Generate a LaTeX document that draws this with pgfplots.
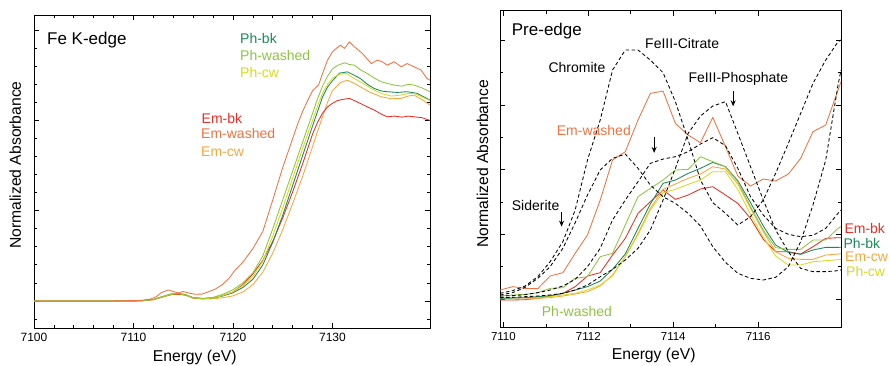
\documentclass[border=0pt]{standalone}
\usepackage{fontspec}
\setmainfont{Liberation Sans}
\usepackage{pgfplots}
\pgfplotsset{compat=1.18}
\usepackage{pgfplotstable}
\usetikzlibrary{arrows.meta}

\definecolor{embk}{HTML}{EE2B24}
\definecolor{emwashed}{HTML}{F3703F}
\definecolor{emcw}{HTML}{FAA53C}
\definecolor{phbk}{HTML}{178A55}
\definecolor{phwashed}{HTML}{8CC43F}
\definecolor{phcw}{HTML}{D9DA1B}

\pgfplotstableread{
x embk emwashed emcw phbk phwashed phcw chromite siderite phosphate citrate
7109.92 -0.015 0.139 0.000 0.010 0.046 0.021 0.088 0.062 0.021 0.046
7110.22 -0.015 0.191 0.000 0.015 0.062 0.021 0.129 0.098 0.026 0.052
7110.51 -0.010 0.165 0.000 0.021 0.072 0.021 0.201 0.180 0.036 0.067
7110.81 0.010 0.160 0.010 0.036 0.098 0.026 0.345 0.320 0.046 0.098
7111.10 0.046 0.356 0.021 0.052 0.165 0.036 0.577 0.500 0.062 0.139
7111.40 0.088 0.407 0.046 0.088 0.175 0.062 0.887 0.784 0.088 0.201
7111.69 0.191 0.706 0.077 0.139 0.320 0.088 1.376 1.180 0.139 0.304
7111.98 0.356 0.990 0.113 0.191 0.345 0.139 2.149 1.608 0.216 0.500
7112.28 0.407 1.531 0.201 0.278 0.655 0.216 2.768 1.995 0.345 0.784
7112.57 0.680 2.149 0.371 0.459 0.706 0.356 3.541 2.175 0.459 1.222
7112.87 0.938 2.278 0.655 0.696 1.144 0.655 3.851 2.242 0.603 1.531
7113.17 1.325 2.768 1.015 1.093 1.582 0.990 3.851 2.021 0.784 1.814
7113.46 1.505 3.180 1.402 1.469 1.711 1.376 3.696 1.763 1.067 2.098
7113.76 1.686 3.216 1.696 1.789 1.840 1.644 3.500 1.582 1.531 2.165
7114.05 1.541 2.716 1.778 1.840 1.995 1.696 3.052 1.479 2.021 2.201
7114.35 1.608 2.536 1.866 1.943 2.005 1.773 2.459 1.325 2.562 2.278
7114.64 1.701 2.418 1.933 2.021 2.201 1.840 1.840 1.129 2.830 2.397
7114.93 1.737 2.809 2.046 2.113 2.124 1.969 1.490 0.809 2.985 2.495
7115.23 1.608 2.356 2.010 2.046 2.046 1.969 1.325 0.567 3.052 2.371
7115.52 1.479 1.902 1.778 1.830 1.814 1.696 1.144 0.397 2.562 2.021
7115.82 1.247 1.747 1.402 1.490 1.428 1.309 1.273 0.320 2.046 1.582
7116.12 0.923 1.856 1.041 1.129 1.067 0.954 1.531 0.294 1.531 1.299
7116.41 0.732 1.825 0.732 0.835 0.794 0.665 1.943 0.335 1.067 1.093
7116.71 0.732 1.933 0.629 0.722 0.768 0.526 2.407 0.500 0.732 1.000
7117.00 0.696 2.175 0.613 0.691 0.768 0.526 2.871 0.887 0.474 0.964
7117.29 0.809 2.588 0.613 0.758 0.912 0.577 3.335 1.454 0.423 0.985
7117.59 0.938 2.691 0.680 0.799 0.912 0.593 3.696 2.149 0.423 1.093
7117.88 0.948 3.232 0.696 0.799 1.093 0.608 3.979 3.309 0.438 1.325
7117.95 0.948 3.361 0.700 0.800 1.119 0.613 4.005 3.541 0.448 1.376
}\rightdata

\pgfplotsset{
  myax/.style={
    scale only axis, anchor=south west,
    axis line style={line width=0.8pt},
    tick style={line width=0.7pt, black},
    tick align=inside, xtick pos=both, ytick pos=both,
    major tick length=5pt, minor tick length=3pt,
    yticklabels={},
    every axis plot/.append style={line width=0.85pt, line join=round, no markers},
  },
  ref/.style={black, dash pattern=on 3.5pt off 2.5pt},
}

\begin{document}
\begin{tikzpicture}
\useasboundingbox (0,0) rectangle (890pt,365pt);

% ---------------- Left panel ----------------
\begin{axis}[myax, at={(34pt,37pt)}, width=396pt, height=313pt,
  xmin=7100, xmax=7139.8, ymin=-0.15, ymax=1.584,
  xtick={7100,7110,7120,7130}, xticklabels={7100,7110,7120,7130},
  minor x tick num=4,
  ytick={0,0.5,1,1.5},
  minor ytick={-0.1,0.1,0.2,0.3,0.4,0.6,0.7,0.8,0.9,1.1,1.2,1.3,1.4},
  xticklabel style={font=\fontsize{12}{14}\selectfont, yshift=-2pt},
]
\addplot[emcw] coordinates {(7100,0) (7110,0) (7111,0.001) (7112,0.006) (7113,0.022) (7113.8,0.036) (7114.5,0.038) (7115.2,0.032) (7116,0.015) (7117,0.01) (7118,0.012) (7119,0.018) (7120,0.028) (7121,0.05) (7122,0.09) (7123,0.16) (7124,0.265) (7125,0.395) (7126,0.54) (7127,0.69) (7128,0.855) (7128.5,0.94) (7129,1.02) (7129.5,1.1) (7130,1.165) (7130.8,1.21) (7131.5,1.223) (7132.2,1.205) (7132.8,1.186) (7133.8,1.155) (7134.9,1.131) (7135.9,1.12) (7136.9,1.122) (7137.6,1.135) (7138.2,1.14) (7139,1.115) (7139.8,1.085)};
\addplot[embk] coordinates {(7100,0) (7110,0) (7111,0.002) (7112,0.008) (7113,0.024) (7113.8,0.035) (7114.5,0.036) (7115.2,0.033) (7116,0.017) (7117,0.013) (7118,0.017) (7119,0.03) (7120,0.05) (7121,0.09) (7122,0.15) (7123,0.225) (7124,0.33) (7125,0.46) (7126,0.605) (7127,0.76) (7128,0.925) (7128.5,0.99) (7129,1.04) (7129.5,1.075) (7130,1.095) (7130.5,1.11) (7131,1.116) (7131.7,1.122) (7132.2,1.11) (7132.8,1.094) (7133.5,1.075) (7134.2,1.057) (7134.9,1.035) (7135.5,1.02) (7136.2,1.024) (7137,1.018) (7137.6,1.024) (7138.2,1.02) (7139,1.015) (7139.8,1.0)};
\addplot[phbk] coordinates {(7100,0) (7110,0) (7111,0.002) (7112,0.008) (7113,0.025) (7113.8,0.038) (7114.5,0.04) (7115.2,0.035) (7116,0.018) (7117,0.013) (7118,0.016) (7119,0.028) (7120,0.045) (7121,0.075) (7122,0.12) (7123,0.2) (7124,0.325) (7125,0.475) (7126,0.64) (7127,0.805) (7128,0.97) (7128.5,1.05) (7129,1.13) (7129.5,1.185) (7130,1.22) (7130.7,1.262) (7131.5,1.269) (7132.2,1.25) (7132.8,1.232) (7133.5,1.2) (7134.2,1.177) (7134.9,1.163) (7135.5,1.159) (7136.5,1.155) (7137.5,1.159) (7138.5,1.15) (7139.2,1.13) (7139.8,1.113)};
\addplot[phcw] coordinates {(7100,0) (7110,0) (7111,0.002) (7112,0.008) (7113,0.024) (7113.8,0.037) (7114.5,0.04) (7115.2,0.035) (7116,0.017) (7117,0.012) (7118,0.016) (7119,0.03) (7120,0.05) (7121,0.085) (7122,0.135) (7123,0.22) (7124,0.36) (7125,0.515) (7126,0.68) (7127,0.845) (7128,1.0) (7128.5,1.08) (7129,1.15) (7129.5,1.2) (7130,1.235) (7130.7,1.255) (7131.4,1.26) (7132.1,1.235) (7132.8,1.214) (7133.8,1.18) (7134.9,1.149) (7135.9,1.135) (7136.9,1.14) (7137.6,1.15) (7138.2,1.149) (7139,1.13) (7139.8,1.11)};
\addplot[phwashed] coordinates {(7100,0) (7110,0) (7111,0.002) (7112,0.008) (7113,0.025) (7113.8,0.04) (7114.5,0.042) (7115.2,0.036) (7116,0.018) (7117,0.014) (7118,0.02) (7119,0.037) (7120,0.062) (7121,0.1) (7122,0.155) (7123,0.25) (7124,0.4) (7125,0.56) (7126,0.72) (7127,0.88) (7128,1.04) (7128.5,1.12) (7129,1.19) (7129.5,1.245) (7130,1.285) (7130.5,1.305) (7131.2,1.319) (7131.7,1.31) (7132.2,1.306) (7132.8,1.28) (7133.5,1.26) (7134.2,1.235) (7134.9,1.214) (7135.5,1.205) (7136.2,1.196) (7137,1.19) (7137.6,1.2) (7138.2,1.196) (7139,1.18) (7139.8,1.159)};
\addplot[emwashed] coordinates {(7100,0) (7108,0) (7110,0.002) (7110.7,0.003) (7111.7,0.01) (7112.3,0.024) (7112.8,0.046) (7113.5,0.061) (7114.0,0.052) (7114.5,0.044) (7115.0,0.052) (7115.7,0.042) (7116.2,0.037) (7116.9,0.038) (7117.5,0.05) (7118.2,0.065) (7118.9,0.089) (7119.6,0.125) (7120.2,0.17) (7121,0.215) (7122,0.29) (7123,0.385) (7124,0.56) (7125,0.74) (7125.5,0.82) (7126,0.9) (7126.5,0.98) (7127,1.05) (7127.5,1.11) (7128,1.165) (7128.6,1.196) (7129,1.26) (7129.5,1.334) (7130,1.38) (7130.4,1.4) (7130.8,1.417) (7131.2,1.399) (7131.7,1.435) (7132.2,1.408) (7132.6,1.39) (7133.0,1.371) (7133.5,1.34) (7133.9,1.315) (7134.5,1.334) (7135.0,1.325) (7135.5,1.306) (7136.2,1.325) (7136.9,1.297) (7137.5,1.315) (7138.2,1.297) (7138.9,1.279) (7139.5,1.232) (7139.8,1.223)};
\end{axis}

% ---------------- Right panel ----------------
\begin{axis}[myax, at={(500pt,38pt)}, width=341pt, height=316.3pt,
  xmin=7109.92, xmax=7117.95, ymin=-0.433, ymax=4.459,
  xtick={7110,7112,7114,7116}, xticklabels={7110,7112,7114,7116},
  minor x tick num=1,
  ytick={0,1,2,3,4}, minor ytick={0.5,1.5,2.5,3.5},
  xticklabel style={font=\fontsize{11.5}{13}\selectfont, yshift=-2pt},
]
\addplot[embk] table[x=x, y=embk] {\rightdata};
\addplot[emcw] table[x=x, y=emcw] {\rightdata};
\addplot[phcw] table[x=x, y=phcw] {\rightdata};
\addplot[phbk] table[x=x, y=phbk] {\rightdata};
\addplot[phwashed] table[x=x, y=phwashed] {\rightdata};
\addplot[emwashed] table[x=x, y=emwashed] {\rightdata};
\addplot[ref] table[x=x, y=chromite] {\rightdata};
\addplot[ref] table[x=x, y=siderite] {\rightdata};
\addplot[ref] table[x=x, y=phosphate] {\rightdata};
\addplot[ref] table[x=x, y=citrate] {\rightdata};
\draw[-{Stealth[length=6pt,width=5pt]}, line width=0.9pt] (axis cs:7115.41,3.22) -- (axis cs:7115.41,2.98);
\draw[-{Stealth[length=6pt,width=5pt]}, line width=0.9pt] (axis cs:7113.55,2.50) -- (axis cs:7113.55,2.26);
\draw[-{Stealth[length=6pt,width=5pt]}, line width=0.9pt] (axis cs:7111.37,1.35) -- (axis cs:7111.37,1.12);
\end{axis}

% ---------------- Text ----------------
\fontsize{14}{16}\selectfont
% left panel
\node[anchor=base west, inner sep=0pt, font=\fontsize{17}{20}\selectfont] at (47pt,320pt) {Fe K-edge};
\node[anchor=base west, inner sep=0pt, text=phbk] at (240pt,321.7pt) {Ph-bk};
\node[anchor=base west, inner sep=0pt, text=phwashed] at (240pt,304.3pt) {Ph-washed};
\node[anchor=base west, inner sep=0pt, text=phcw] at (240pt,287.7pt) {Ph-cw};
\node[anchor=base west, inner sep=0pt, text=embk] at (201.5pt,241.7pt) {Em-bk};
\node[anchor=base west, inner sep=0pt, text=emwashed] at (201pt,226.7pt) {Em-washed};
\node[anchor=base west, inner sep=0pt, text=emcw] at (201pt,209pt) {Em-cw};
\node[anchor=base, rotate=90, inner sep=0pt, font=\fontsize{15.7}{18}\selectfont] at (21pt,200pt) {Normalized Absorbance};
\node[anchor=base, inner sep=0pt, font=\fontsize{15.7}{18}\selectfont] at (194.7pt,3.5pt) {Energy (eV)};
% right panel
\node[anchor=base west, inner sep=0pt, font=\fontsize{17}{20}\selectfont] at (511.7pt,329pt) {Pre-edge};
\node[anchor=base west, inner sep=0pt] at (645pt,316.7pt) {FeIII-Citrate};
\node[anchor=base west, inner sep=0pt] at (548.3pt,292.3pt) {Chromite};
\node[anchor=base west, inner sep=0pt] at (688.3pt,282.3pt) {FeIII-Phosphate};
\node[anchor=base west, inner sep=0pt, text=emwashed] at (556.7pt,230pt) {Em-washed};
\node[anchor=base west, inner sep=0pt] at (511.7pt,155pt) {Siderite};
\node[anchor=base west, inner sep=0pt, text=phwashed] at (541.7pt,48.3pt) {Ph-washed};
\node[anchor=base west, inner sep=0pt, text=embk] at (844.3pt,131.7pt) {Em-bk};
\node[anchor=base west, inner sep=0pt, text=phbk] at (843.3pt,116.7pt) {Ph-bk};
\node[anchor=base west, inner sep=0pt, text=emcw] at (845pt,104pt) {Em-cw};
\node[anchor=base west, inner sep=0pt, text=phcw] at (846pt,89pt) {Ph-cw};
\node[anchor=base, rotate=90, inner sep=0pt, font=\fontsize{15.7}{18}\selectfont] at (488pt,201.3pt) {Normalized Absorbance};
\node[anchor=base, inner sep=0pt, font=\fontsize{15.7}{18}\selectfont] at (653.7pt,5.7pt) {Energy (eV)};
\end{tikzpicture}
\end{document}
